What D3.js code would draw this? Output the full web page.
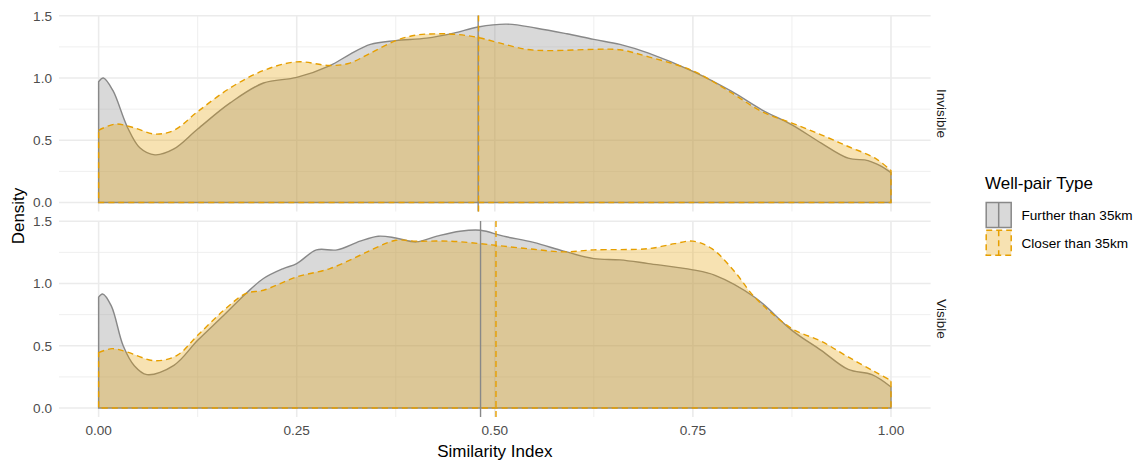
<!DOCTYPE html>
<html>
<head>
<meta charset="utf-8">
<script src="https://cdn.jsdelivr.net/npm/d3@7"></script>
<style>
  body { margin: 0; background: #fff; }
  svg { display: block; font-family: "Liberation Sans", Arial, sans-serif; }
</style>
</head>
<body>
<svg id="chart" width="1139" height="461"></svg>
<script>
// facets and groups
var panels = ["Invisible", "Visible"];
var groups = ["Further than 35km", "Closer than 35km"];
var xTicks = [0, 0.25, 0.5, 0.75, 1];
var xTickLabels = ["0.00", "0.25", "0.50", "0.75", "1.00"];
var yTicks = [0, 0.5, 1, 1.5];
var yTickLabels = ["0.0", "0.5", "1.0", "1.5"];

// density curves: [similarity, density]
var invisibleFurther = [[0,0.97],[0.006,1.0],[0.018,0.90],[0.036,0.61],[0.052,0.44],[0.071,0.383],[0.095,0.43],[0.125,0.59],[0.166,0.80],[0.208,0.96],[0.25,1.005],[0.292,1.10],[0.317,1.19],[0.343,1.27],[0.375,1.30],[0.414,1.32],[0.448,1.36],[0.479,1.41],[0.515,1.433],[0.553,1.40],[0.591,1.355],[0.625,1.31],[0.658,1.27],[0.694,1.20],[0.75,1.053],[0.799,0.892],[0.837,0.745],[0.875,0.624],[0.912,0.477],[0.946,0.356],[0.971,0.337],[0.988,0.29],[1.0,0.24]];
var invisibleCloser = [[0,0.58],[0.021,0.63],[0.045,0.60],[0.071,0.55],[0.095,0.58],[0.125,0.73],[0.166,0.92],[0.208,1.06],[0.25,1.13],[0.292,1.10],[0.317,1.12],[0.343,1.20],[0.375,1.30],[0.401,1.345],[0.427,1.355],[0.452,1.35],[0.479,1.325],[0.507,1.28],[0.540,1.23],[0.570,1.22],[0.625,1.23],[0.658,1.227],[0.694,1.17],[0.75,1.058],[0.799,0.88],[0.837,0.73],[0.875,0.638],[0.912,0.544],[0.946,0.45],[0.980,0.356],[1.0,0.257]];
var visibleFurther = [[0,0.89],[0.005,0.916],[0.016,0.82],[0.031,0.50],[0.045,0.34],[0.061,0.268],[0.095,0.343],[0.125,0.544],[0.158,0.745],[0.186,0.92],[0.208,1.04],[0.233,1.12],[0.25,1.16],[0.275,1.27],[0.301,1.27],[0.33,1.34],[0.353,1.38],[0.375,1.366],[0.401,1.334],[0.427,1.38],[0.456,1.42],[0.482,1.428],[0.511,1.38],[0.549,1.33],[0.587,1.26],[0.625,1.20],[0.658,1.19],[0.694,1.16],[0.75,1.11],[0.778,1.066],[0.828,0.89],[0.875,0.624],[0.912,0.463],[0.946,0.31],[0.976,0.268],[1.0,0.169]];
var visibleCloser = [[0,0.445],[0.017,0.477],[0.036,0.45],[0.071,0.38],[0.099,0.423],[0.125,0.584],[0.158,0.785],[0.186,0.92],[0.208,0.946],[0.25,1.053],[0.292,1.12],[0.33,1.227],[0.343,1.267],[0.375,1.347],[0.401,1.34],[0.444,1.34],[0.482,1.32],[0.511,1.30],[0.549,1.275],[0.587,1.254],[0.625,1.27],[0.694,1.28],[0.727,1.32],[0.75,1.34],[0.774,1.28],[0.803,1.093],[0.828,0.89],[0.875,0.638],[0.912,0.536],[0.946,0.41],[0.980,0.29],[1.0,0.222]];

// group means (vertical lines)
var meanFurther = [0.479, 0.482];
var meanCloser = [0.4795, 0.5015];

var curves = [[invisibleFurther, invisibleCloser], [visibleFurther, visibleCloser]];
var means = [[meanFurther[0], meanCloser[0]], [meanFurther[1], meanCloser[1]]];

var fills = ["rgba(153,153,153,0.37)", "rgba(230,159,0,0.3)"];
var strokes = ["#888888", "#E69F00"];
var dashes = [null, "6,4"];

var svg = d3.select("#chart");
var left = 59, right = 930.6;
var panelTops = [15.5, 221], panelH = 196;

var x = d3.scaleLinear().domain([-0.05, 1.05]).range([left, right]);

panels.forEach(function (name, p) {
    var top = panelTops[p];
    var y = d3.scaleLinear().domain([-0.072, 1.502]).range([top + panelH, top]);
    var g = svg.append("g");

    // minor grid
    d3.range(0.125, 1, 0.25).forEach(function (v) {
        g.append("line").attr("x1", x(v)).attr("x2", x(v)).attr("y1", top).attr("y2", top + panelH)
            .attr("stroke", "#ebebeb").attr("stroke-width", 0.8);
    });
    [0.25, 0.75, 1.25].forEach(function (v) {
        g.append("line").attr("x1", left).attr("x2", right).attr("y1", y(v)).attr("y2", y(v))
            .attr("stroke", "#ebebeb").attr("stroke-width", 0.8);
    });
    // major grid
    xTicks.forEach(function (v) {
        g.append("line").attr("x1", x(v)).attr("x2", x(v)).attr("y1", top).attr("y2", top + panelH)
            .attr("stroke", "#ebebeb").attr("stroke-width", 1.6);
    });
    yTicks.forEach(function (v) {
        g.append("line").attr("x1", left).attr("x2", right).attr("y1", y(v)).attr("y2", y(v))
            .attr("stroke", "#ebebeb").attr("stroke-width", 1.6);
    });

    var area = d3.area()
        .x(function (d) { return x(d[0]); })
        .y0(y(0))
        .y1(function (d) { return y(d[1]); })
        .curve(d3.curveCatmullRom.alpha(0.5));

    curves[p].forEach(function (data, i) {
        g.append("path").attr("d", area(data))
            .attr("fill", fills[i]).attr("stroke", strokes[i]).attr("stroke-width", 1.4)
            .attr("stroke-dasharray", dashes[i]);
    });
    means[p].forEach(function (m, i) {
        g.append("line").attr("x1", x(m)).attr("x2", x(m)).attr("y1", top).attr("y2", top + panelH)
            .attr("stroke", strokes[i]).attr("stroke-width", 1.4).attr("stroke-dasharray", dashes[i]);
    });

    // y tick labels
    yTicks.forEach(function (v, i) {
        g.append("text").attr("x", 52).attr("y", y(v)).attr("dy", "0.35em")
            .attr("text-anchor", "end").attr("font-size", 13.6).attr("fill", "#4d4d4d")
            .text(yTickLabels[i]);
    });

    // strip label
    var cy = top + panelH / 2;
    g.append("text").attr("transform", "translate(942," + cy + ") rotate(90)")
        .attr("text-anchor", "middle").attr("dy", "0.35em")
        .attr("font-size", 13.6).attr("fill", "#1a1a1a").text(name);
});

// x tick labels (bottom panel only)
xTicks.forEach(function (v, i) {
    svg.append("text").attr("x", x(v)).attr("y", 430).attr("dy", "0.35em")
        .attr("text-anchor", "middle").attr("font-size", 13.6).attr("fill", "#4d4d4d")
        .text(xTickLabels[i]);
});

// axis titles
svg.append("text").attr("x", x(0.5)).attr("y", 451).attr("dy", "0.35em")
    .attr("text-anchor", "middle").attr("font-size", 17).attr("fill", "#000").text("Similarity Index");
svg.append("text").attr("transform", "translate(18,216) rotate(-90)").attr("dy", "0.35em")
    .attr("text-anchor", "middle").attr("font-size", 17).attr("fill", "#000").text("Density");

// legend
var lg = svg.append("g").attr("transform", "translate(985,0)");
lg.append("text").attr("x", 0).attr("y", 189).attr("font-size", 17).attr("fill", "#000").text("Well-pair Type");
groups.forEach(function (name, i) {
    var ky = 202.5 + i * 27.8;
    lg.append("rect").attr("x", 1.2).attr("y", ky).attr("width", 25).attr("height", 25)
        .attr("fill", fills[i]).attr("stroke", strokes[i]).attr("stroke-width", 1.5)
        .attr("stroke-dasharray", dashes[i]);
    lg.append("line").attr("x1", 13.7).attr("x2", 13.7).attr("y1", ky).attr("y2", ky + 25)
        .attr("stroke", strokes[i]).attr("stroke-width", 1.5).attr("stroke-dasharray", dashes[i]);
    lg.append("text").attr("x", 36.5).attr("y", ky + 12.8).attr("dy", "0.35em")
        .attr("font-size", 13.6).attr("fill", "#000").text(name);
});
</script>
</body>
</html>
